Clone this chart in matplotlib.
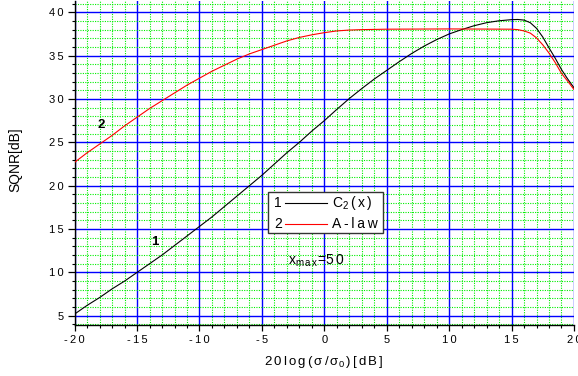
import matplotlib
matplotlib.use('Agg')
import matplotlib.pyplot as plt
from matplotlib.ticker import MultipleLocator, FuncFormatter
from matplotlib.patches import Rectangle

plt.rcParams['font.family'] = ['Liberation Sans', 'DejaVu Sans']
plt.rcParams['mathtext.default'] = 'regular'
plt.rcParams['axes.unicode_minus'] = False

# curve 1: C2(x) compander
x_c2 = [-20, -19, -18, -17, -16, -15, -14, -13, -12, -11, -10, -9, -8, -7, -6,
        -5, -4, -3, -2, -1, 0, 1, 2, 3, 4, 5, 6, 7, 8, 9, 10, 11, 12, 13, 14,
        15, 15.5, 16, 16.5, 17, 17.5, 18, 18.5, 19, 19.5, 20]
y_c2 = [5.2, 6.2, 7.1, 8.1, 9.0, 10.0, 11.0, 12.0, 13.1, 14.2, 15.3, 16.4, 17.6,
        18.8, 20.0, 21.2, 22.5, 23.8, 25.0, 26.3, 27.5, 28.8, 30.05, 31.2, 32.3,
        33.3, 34.3, 35.25, 36.1, 36.85, 37.5, 38.0, 38.45, 38.8, 39.02, 39.15,
        39.17, 39.1, 38.8, 38.15, 37.15, 35.9, 34.7, 33.4, 32.3, 31.3]

# curve 2: A-law
x_alaw = [-20, -19, -18, -17, -16, -15, -14, -13, -12, -11, -10, -9, -8, -7, -6,
          -5, -4, -3, -2, -1, 0, 1, 2, 3, 5, 10, 15, 15.5, 16, 16.5, 17, 17.5,
          18, 18.5, 19, 19.5, 20]
y_alaw = [22.7, 23.8, 24.8, 25.8, 26.9, 27.9, 28.9, 29.8, 30.7, 31.6, 32.4, 33.2,
          33.9, 34.6, 35.2, 35.7, 36.2, 36.7, 37.1, 37.4, 37.65, 37.85, 37.95,
          38.0, 38.05, 38.08, 38.05, 38.0, 37.85, 37.6, 37.05, 36.25, 35.3, 34.2,
          32.95, 32.05, 31.1]

THIN = '\u2009'


def spaced(s):
    return THIN.join(s)


fig = plt.figure(figsize=(5.78, 3.76), dpi=100)
ax = fig.add_axes([0.1292, 0.1356, 0.8638, 0.8617])

ax.plot(x_c2, y_c2, color='black', lw=0.8, zorder=3)
ax.plot(x_alaw, y_alaw, color='red', lw=0.8, zorder=3)

ax.set_xlim(-20, 20)
ax.set_ylim(3.93, 41.3)
ax.xaxis.set_major_locator(MultipleLocator(5))
ax.xaxis.set_minor_locator(MultipleLocator(1))
ax.yaxis.set_major_locator(MultipleLocator(5))
ax.yaxis.set_minor_locator(MultipleLocator(1))
fmt = FuncFormatter(lambda v, pos: spaced('%g' % v))
ax.xaxis.set_major_formatter(fmt)
ax.yaxis.set_major_formatter(fmt)

ax.set_axisbelow(True)
ax.grid(which='major', color='#0000ff', lw=1.0, ls='-')
ax.grid(which='minor', color='#00ee00', lw=0.8, ls=(0, (1, 1.2)))

for side in ['top', 'right']:
    ax.spines[side].set_visible(False)
ax.spines['left'].set_linewidth(1.0)
ax.spines['bottom'].set_linewidth(1.0)
ax.tick_params(which='major', direction='out', length=4.5, width=0.9,
               labelsize=8, pad=3)
ax.tick_params(which='minor', direction='out', length=2.5, width=0.8)
ax.tick_params(axis='y', which='major', length=5)

ax.set_ylabel('SQNR[dB]', fontsize=10)
ax.yaxis.set_label_coords(-0.104, 0.51)
ax.set_xlabel(r'$\mathregular{2\,0\,l\,o\,g\,(\,\sigma\,/\,\sigma_0\,)\,[\,d\,B\,]}$',
              fontsize=9.5)
ax.xaxis.set_label_coords(0.498, -0.088)

# curve numbers
ax.text(-13.6, 13.5, '1', fontsize=9.5, fontweight='bold', ha='center', va='center')
ax.text(-17.9, 27.0, '2', fontsize=9.5, fontweight='bold', ha='center', va='center')

# legend box
ax.add_patch(Rectangle((0.387, 0.284), 0.23, 0.126, transform=ax.transAxes,
                       facecolor='white', edgecolor='#333333', lw=1.0, zorder=5))
rows = [(0.377, 'black', '1', r'$\mathregular{C_2\,(\,x\,)}$'),
        (0.312, 'red', '2', spaced('A-law'))]
for yy, col, num, lab in rows:
    ax.text(0.407, yy, num, transform=ax.transAxes, fontsize=10,
            ha='center', va='center', zorder=6)
    ax.plot([0.421, 0.506], [yy, yy], transform=ax.transAxes, color=col,
            lw=0.8, zorder=6)
    ax.text(0.515, yy, lab, transform=ax.transAxes, fontsize=10,
            ha='left', va='center', zorder=6)

ax.text(-2.91, 10.85, r'$\mathregular{x_{m\,a\,x}\!=\!5\,0}$', fontsize=10,
        ha='left', va='baseline')

fig.savefig('out.png', dpi=100)
